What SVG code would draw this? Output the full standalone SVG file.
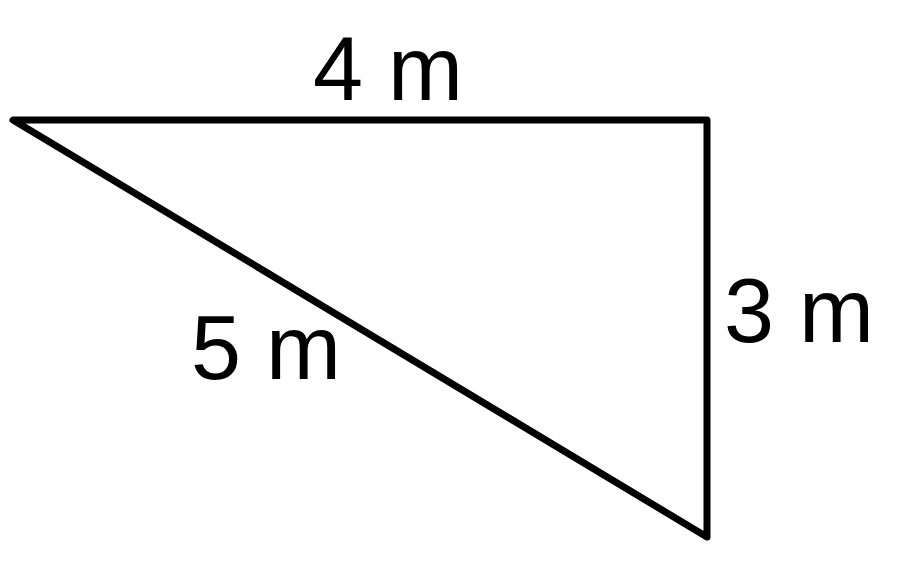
<svg xmlns="http://www.w3.org/2000/svg" width="900" height="570" viewBox="0 0 900 570">
<style>
.edge{fill:none;stroke:#000;stroke-width:7;stroke-linejoin:round;stroke-linecap:round}
.lbl{font-family:"Liberation Sans",Arial,sans-serif;font-size:90px;fill:#000}
</style>
<rect width="900" height="570" fill="#fff"/>
<g id="triangle">
<polygon class="edge" points="13,120 707,120 707,537"/>
</g>
<g id="labels">
<text class="lbl" x="313" y="100">4 m</text>
<text class="lbl" x="724" y="342">3 m</text>
<text class="lbl" x="191" y="379">5 m</text>
</g>
</svg>
